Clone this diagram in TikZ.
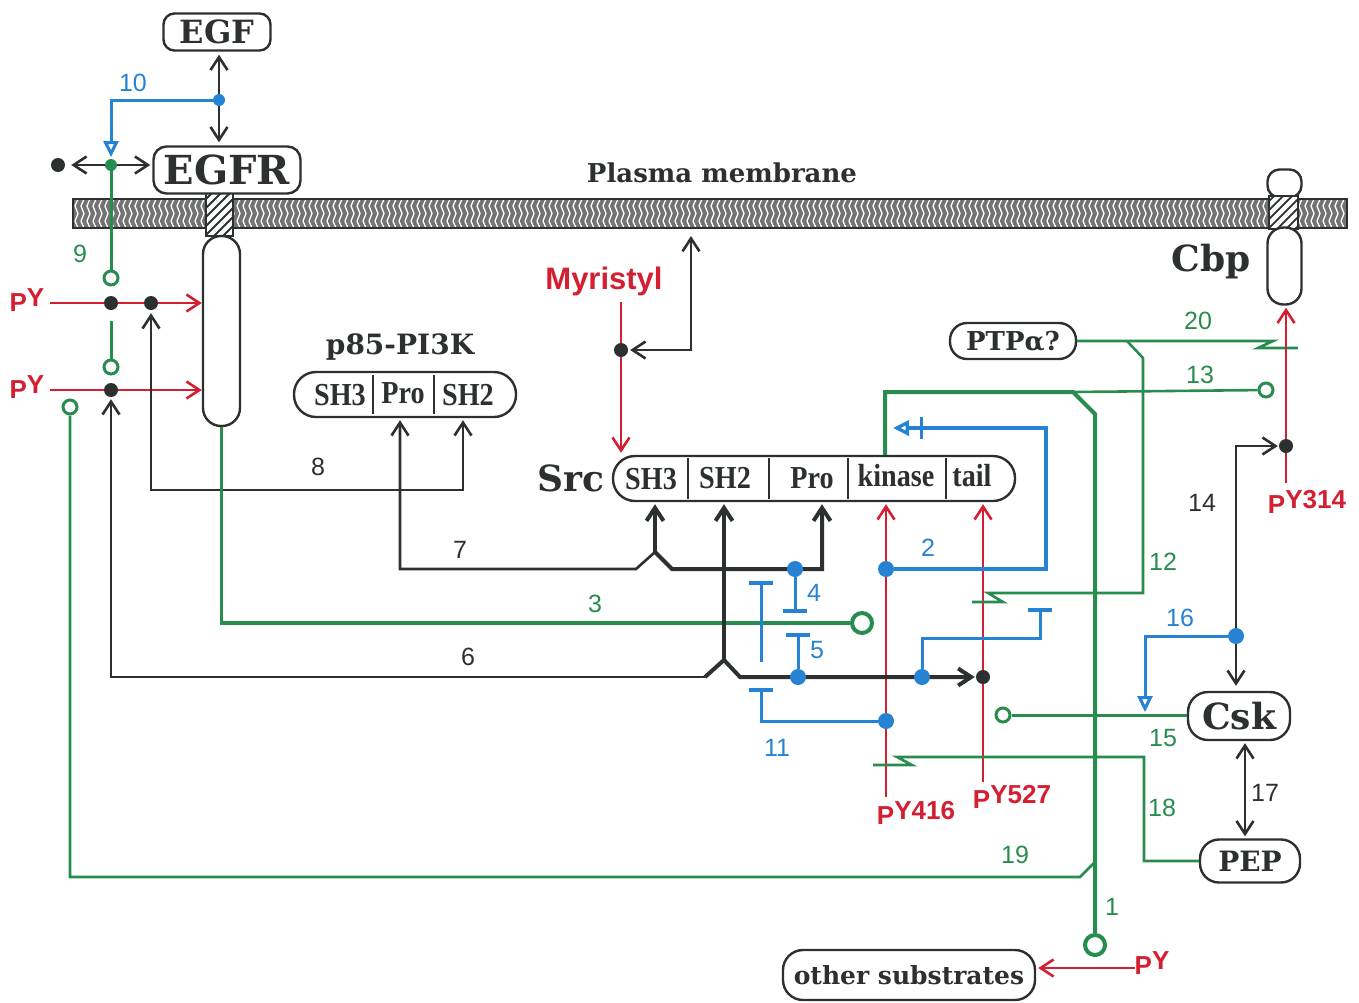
\documentclass[tikz,border=0pt]{standalone}
\usepackage{fontspec}
\newfontfamily\dvs{DejaVu Serif}
\newfontfamily\cond[FakeStretch=0.88]{Liberation Serif}
\newfontfamily\hel{Liberation Sans}
\usetikzlibrary{arrows.meta,calc}
\definecolor{cR}{RGB}{212,30,50}
\definecolor{cG}{RGB}{40,140,78}
\definecolor{cB}{RGB}{38,130,210}
\definecolor{cK}{RGB}{45,48,48}
\newcommand\myfs[1]{\fontsize{#1}{#1}\selectfont}
\newcommand\pP{\raisebox{-.22em}{P}}
\tikzset{
  bx/.style={draw=cK,line width=2.4pt,fill=white,inner sep=0pt,text=cK,font=\dvs\bfseries},
  capsule/.style={draw=cK,line width=2.4pt,fill=white,inner sep=0pt},
  barb/.tip={Straight Barb[length=13pt,width=17pt]},
  tbar/.tip={Bar[width=24pt,line width=4pt]},
  otri/.tip={Triangle[open,length=16pt,width=15pt]},
  kl/.style={draw=cK,line width=2.6pt},
  kt/.style={draw=cK,line width=4pt},
  gl/.style={draw=cG,line width=2.6pt},
  gt/.style={draw=cG,line width=4pt},
  bl/.style={draw=cB,line width=3pt},
  rl/.style={draw=cR,line width=2.6pt},
  bdot/.style={circle,fill=cK,inner sep=0pt,minimum size=14pt},
  bludot/.style={circle,fill=cB,inner sep=0pt,minimum size=16pt},
  gdot/.style={circle,fill=cG,inner sep=0pt,minimum size=12pt},
  gopen/.style={circle,draw=cG,fill=white,line width=3pt,inner sep=0pt,minimum size=14pt},
  gopenL/.style={circle,draw=cG,fill=white,line width=4pt,inner sep=0pt,minimum size=20pt},
  num/.style={inner sep=0pt,font=\hel\myfs{25}},
  rlab/.style={inner sep=0pt,text=cR,font=\hel\bfseries\myfs{26}},
  dom/.style={inner sep=0pt,text=cK,font=\cond\bfseries\myfs{32}},
  ttl/.style={inner sep=0pt,text=cK,font=\dvs\bfseries\myfs{36}},
}
\begin{document}
\begin{tikzpicture}[x=1pt,y=-1pt]
\useasboundingbox (0,0) rectangle (1359,1002);
% ---------- membrane ----------
\fill[black!55] (73,199) rectangle (1347,228);
\foreach \x in {78,84,...,1344}
  \draw[white,line width=1.3pt] (\x,199) -- (\x-3,206) -- (\x,213.5) -- (\x-3,221) -- (\x,228);
\draw[cK,line width=1.6pt] (73,199) rectangle (1347,228);
\node[inner sep=0pt,text=cK,font=\dvs\bfseries\myfs{26}] (pm) at (722,173) {Plasma membrane};
% ---------- EGFR ----------
\fill[white] (206,193) rectangle (233,236);
\begin{scope}
  \clip (206,193) rectangle (233,236);
  \foreach \t in {-50,-41,...,40} \draw[cK,line width=1.8pt] (206+\t,240) -- ++(50,-50);
\end{scope}
\draw[cK,line width=2.4pt] (206,193) rectangle (233,236);
\node[capsule,minimum width=37pt,minimum height=190pt,rounded corners=18pt] (EGFRc) at (221.5,331) {};
\node[bx,minimum width=147pt,minimum height=47pt,rounded corners=13pt,font=\dvs\bfseries\myfs{40}] (EGFR) at (227,170) {EGFR};
\node[bx,minimum width=107pt,minimum height=37pt,rounded corners=11pt,font=\dvs\bfseries\myfs{32}] (EGF) at (217,32) {EGF};
\coordinate (j10) at (219,100);
\draw[kl,barb-barb,shorten <=3pt,shorten >=3pt] (EGF.south -| j10) -- (EGFR.north -| j10);
\coordinate (t10) at (111,157);
\draw[bl,-otri] (j10) -| (t10);
\node[bludot,minimum size=12pt] at (j10) {};
\node[num,text=cB] (n10) at (133,83) {10};
% left double arrow + green 9
\node[bdot] (bd0) at (58,165) {};
\coordinate (g9) at (111,165);
\draw[kl,barb-barb,shorten <=6pt,shorten >=2pt] (bd0) -- (EGFR.west |- bd0);
\node[gopen] (o9a) at (111,278) {};
\draw[gl,line width=3pt] (g9) -- (o9a);
\node[gdot] at (g9) {};
\coordinate (g9b) at (111,321);
\node[gopen] (o9b) at (111,367) {};
\draw[gl,line width=3pt] (g9b) -- (o9b);
\node[num,text=cG] (n9) at (80,254) {9};
% pY rows
\node[rlab] (py1) at (27,300) {\pP Y};
\node[rlab] (py2) at (27,387) {\pP Y};
\coordinate (r1) at (50,303);
\coordinate (r2) at (50,390);
\draw[rl,-barb] (r1) -- (EGFRc.west |- r1);
\draw[rl,-barb] (r2) -- (EGFRc.west |- r2);
\node[bdot] (d1) at (111,303) {};
\node[bdot] (d2) at (151,303) {};
\node[bdot] (d3) at (111,390) {};
\node[gopen] (o19) at (70,407) {};
% ---------- p85 ----------
\node[inner sep=0pt,text=cK,font=\dvs\bfseries\myfs{28}] (p85lab) at (400,347) {p85-PI3K};
\node[bx,minimum width=222pt,minimum height=45pt,rounded corners=22pt] (p85) at (405,394.5) {};
\draw[cK,line width=2pt] (373,375) -- (373,414) (434,375) -- (434,414);
\node[dom] (pSH3) at (340,395) {SH3};
\node[dom] (pPro) at (403,393) {Pro};
\node[dom] (pSH2) at (468,395) {SH2};
% ---------- Src ----------
\node[ttl] (srclab) at (571,478) {Src};
\node[bx,minimum width=402pt,minimum height=45pt,rounded corners=22pt] (src) at (814,478.5) {};
\foreach \x in {688,769,848,946} \draw[cK,line width=2pt] (\x,458) -- (\x,499);
\node[dom] (sSH3) at (651,479) {SH3};
\node[dom] (sSH2) at (725,478) {SH2};
\node[dom] (sPro) at (812,478) {Pro};
\node[dom] (sKin) at (896,476) {kinase};
\node[dom] (sTail) at (972,476) {tail};
% ---------- line 8 ----------
\coordinate (c8a) at (151,490);
\coordinate (c8b) at (463,490);
\draw[kl,barb-barb,shorten <=3pt,shorten >=2pt] (d2) -- (c8a) -- (c8b) -- (p85.south -| c8b);
\node[num,text=cK] (n8) at (318,467) {8};
% ---------- line 7 ----------
\coordinate (c7a) at (400,569);
\coordinate (k1) at (636,569);
\coordinate (k2) at (655,552);
\coordinate (k3) at (672,569);
\coordinate (c7b) at (822,569);
\draw[kl,barb-,shorten <=2pt] (p85.south -| c7a) -- (c7a) -- (k1) -- (k2);
\draw[kt,-barb,shorten >=2pt] (k2) -- (k3) -- (c7b) -- (src.south -| c7b);
\draw[kt,-barb,shorten >=2pt] (k2) -- (src.south -| k2);
\node[num,text=cK] (n7) at (460,550) {7};
% ---------- green 3 ----------
\node[gopenL] (o3) at (862,623) {};
\draw[gl,line width=3.4pt] (EGFRc.south) |- (o3);
\node[num,text=cG] (n3) at (595,604) {3};
% ---------- red 416 / 527 ----------
\coordinate (r416) at (886,797);
\draw[rl,-barb,shorten >=2pt] (r416) -- (src.south -| r416);
\node[rlab] (l416) at (916,813) {\pP Y416};
\coordinate (r527) at (983,782);
\draw[rl,-barb,shorten >=2pt] (r527) -- (src.south -| r527);
\node[rlab] (l527) at (1012,797) {\pP Y527};
% ---------- line 6 ----------
\node[bdot] (d527) at (983,677) {};
\coordinate (m1) at (705,677);
\coordinate (m2) at (724,660);
\coordinate (m3) at (740,677);
\draw[kl,-barb,shorten >=2pt] (m1) -| (d3);
\draw[kt,-barb,shorten >=1pt] (m1) -- (m2) -- (m3) -- (d527);
\draw[kt,-barb,shorten >=2pt] (m2) -- (src.south -| m2);
\node[num,text=cK] (n6) at (468,657) {6};
% ---------- blue ----------
\node[bludot] (b4) at (795,569) {};
\coordinate (t4) at (795,613);
\draw[bl,-tbar] (b4) -- (t4);
\node[num,text=cB] (n4) at (814,593) {4};
\node[bludot] (b5) at (798,677) {};
\coordinate (t5) at (798,633);
\draw[bl,-tbar] (b5) -- (t5);
\node[num,text=cB] (n5) at (817,650) {5};
\coordinate (b6) at (761,662);
\coordinate (t6) at (761,581);
\draw[bl,-tbar] (b6) -- (t6);
\node[bludot] (b11) at (886,721) {};
\coordinate (t11) at (761,688);
\draw[bl,-tbar] (b11) -| (t11);
\node[num,text=cB] (n11) at (777,748) {11};
\node[bludot] (b2) at (886,569) {};
\coordinate (c2) at (1046,569);
\coordinate (t2) at (893,428);
\draw[bl,line width=3.4pt,-otri] (b2) -- (c2) |- (t2);
\draw[bl] (921,417) -- (921,439);
\node[num,text=cB] (n2) at (928,548) {2};
\node[bludot] (bx) at (922,677) {};
\coordinate (cx) at (1040,638);
\coordinate (tx) at (1040,608);
\draw[bl,-tbar] (bx) |- (cx) -- (tx);
% ---------- Myristyl ----------
\node[rlab,font=\hel\bfseries\myfs{31}] (myr) at (604,281) {Myristyl};
\coordinate (rm) at (621,302);
\draw[rl,-barb,shorten >=2pt] (rm) -- (src.north -| rm);
\node[bdot] (dm) at (621,350) {};
\coordinate (cm) at (691,350);
\coordinate (mt) at (691,236);
\draw[kl,barb-barb,shorten <=2pt] (dm) -- (cm) -- (mt);
% ---------- green kinase line / 1 / 13 ----------
\coordinate (k13) at (885,392);
\coordinate (j1) at (1073,392);
\coordinate (j1b) at (1095,414);
\node[gopenL] (o1) at (1095,945) {};
\draw[gt] (src.north -| k13) -- (k13) -- (j1) -- (j1b) -- (o1);
\node[gopen] (o13) at (1266,390) {};
\draw[gl] (j1) -- (o13);
\node[num,text=cG] (n13) at (1200,375) {13};
\node[num,text=cG] (n1) at (1112,907) {1};
% ---------- 19 ----------
\coordinate (c19) at (1080,877);
\coordinate (j19) at (1095,862);
\draw[gl] (o19) |- (c19) -- (j19);
\node[num,text=cG] (n19) at (1015,855) {19};
% ---------- other substrates ----------
\node[bx,minimum width=252pt,minimum height=50pt,rounded corners=20pt,font=\dvs\bfseries\myfs{25}] (os) at (909,975) {other substrates};
\node[rlab] (pyb) at (1152,963) {\pP Y};
\coordinate (cpy) at (1135,968);
\draw[rl,-barb,shorten >=2pt] (cpy) -- (os.east |- cpy);
% ---------- PTPa ----------
\node[bx,minimum width=126pt,minimum height=36pt,rounded corners=17pt,font=\dvs\bfseries\myfs{26}] (ptp) at (1013,341) {PTPα?};
\coordinate (c20) at (1273,341);
\draw[gl] (ptp.east) -- (c20) -- (1258,348) -- (1298,348);
\node[num,text=cG] (n20) at (1198,321) {20};
\coordinate (j12) at (1127,341);
\draw[gl] (j12) -- (1143,358) -- (1143,593) -- (988,593) -- (1003,602) -- (972,602);
\node[num,text=cG] (n12) at (1163,562) {12};
% ---------- Cbp ----------
\node[capsule,minimum width=34pt,minimum height=28pt,rounded corners=12pt] (cbpcap) at (1284.5,183.5) {};
\fill[white] (1269,196) rectangle (1298,229);
\begin{scope}
  \clip (1269,196) rectangle (1298,229);
  \foreach \t in {-50,-41,...,40} \draw[cK,line width=1.8pt] (1269+\t,233) -- ++(50,-50);
\end{scope}
\draw[cK,line width=2.4pt] (1269,196) rectangle (1298,229);
\node[capsule,minimum width=34pt,minimum height=77pt,rounded corners=16pt] (cbp) at (1284.5,266) {};
\node[ttl] (cbplab) at (1211,262) {Cbp};
\coordinate (r314) at (1286,483);
\draw[rl,-barb,shorten >=2pt] (r314) -- (cbp.south -| r314);
\node[rlab] (l314) at (1307,502) {\pP Y314};
% ---------- Csk / PEP ----------
\node[bx,minimum width=102pt,minimum height=48pt,rounded corners=20pt,font=\dvs\bfseries\myfs{36}] (csk) at (1239,716) {Csk};
\node[bx,minimum width=100pt,minimum height=43pt,rounded corners=19pt,font=\dvs\bfseries\myfs{28}] (pep) at (1250,861) {PEP};
\coordinate (x17) at (1245,800);
\draw[kl,barb-barb,shorten <=2pt,shorten >=2pt] (csk.south -| x17) -- (pep.north -| x17);
\node[num,text=cK] (n17) at (1265,793) {17};
\coordinate (c14) at (1236,446);
\node[bdot] (d314) at (1286,446) {};
\draw[kl,barb-barb,shorten <=5pt,shorten >=1pt] (csk.north -| c14) -- (c14) -- (d314);
\node[num,text=cK] (n14) at (1202,503) {14};
\node[bludot] (b16) at (1236,636) {};
\coordinate (t16) at (1145,712);
\draw[bl,-otri] (b16) -| (t16);
\node[num,text=cB] (n16) at (1180,618) {16};
\node[gopen] (o15) at (1003,715) {};
\draw[gl,line width=3pt] (o15) -- (csk.west |- o15);
\node[num,text=cG] (n15) at (1163,738) {15};
\coordinate (c18) at (1144,757);
\draw[gl] (pep.west) -| (c18) -- (897,757) -- (912,765) -- (873,765);
\node[num,text=cG] (n18) at (1162,808) {18};
\end{tikzpicture}
\end{document}
